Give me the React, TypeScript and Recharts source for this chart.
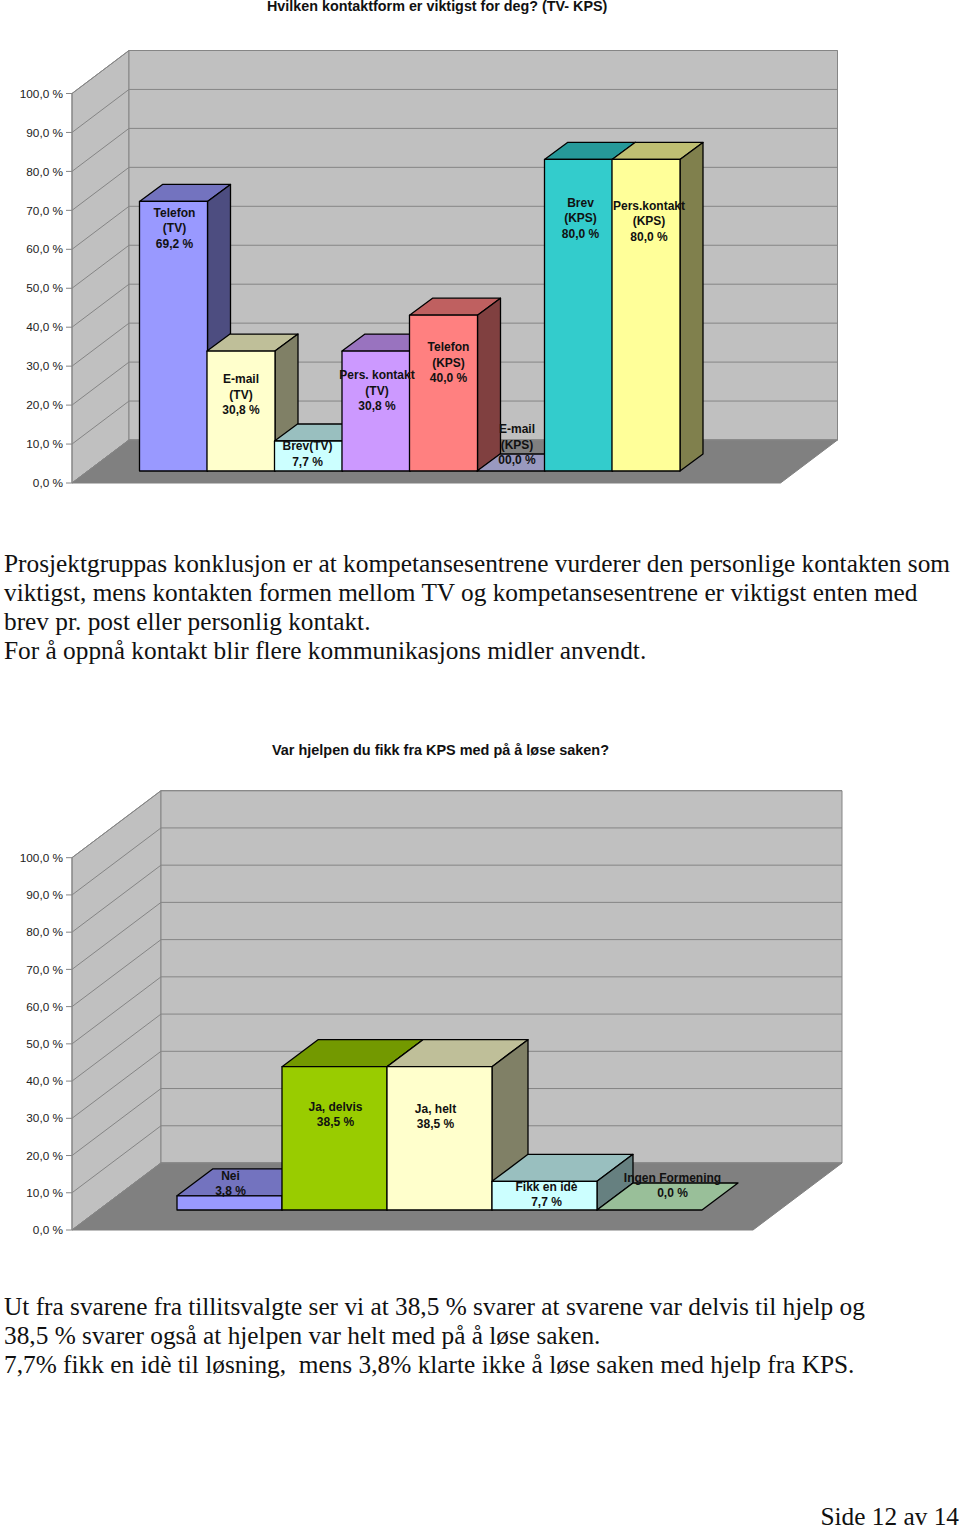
import { Bar, BarChart, CartesianGrid, LabelList, XAxis, YAxis } from "recharts";

const yTicks = [0, 10, 20, 30, 40, 50, 60, 70, 80, 90, 100];

const contactNames = ["Telefon (TV)", "E-mail (TV)", "Brev (TV)", "Pers. kontakt (TV)", "Telefon (KPS)", "E-mail (KPS)", "Brev (KPS)", "Pers.kontakt (KPS)"];
const contactValues = [69.2, 30.8, 7.7, 30.8, 40, 0, 80, 80];
const contactColors = ["#9999ff", "#ffffcc", "#ccffff", "#cc99ff", "#ff8080", "#ccccff", "#33cccc", "#ffff99"];
const contactLabels = [
  ["Telefon", "(TV)", "69,2 %"],
  ["E-mail", "(TV)", "30,8 %"],
  ["Brev(TV)", "7,7 %"],
  ["Pers. kontakt", "(TV)", "30,8 %"],
  ["Telefon", "(KPS)", "40,0 %"],
  ["E-mail", "(KPS)", "00,0 %"],
  ["Brev", "(KPS)", "80,0 %"],
  ["Pers.kontakt", "(KPS)", "80,0 %"]
];
const contactLabelShift = [[1, 11], [0, 28], [-1, 5], [1, 24], [5, 32], [6, -42], [2, 43], [3, 46]];

const helpNames = ["Nei", "Ja, delvis", "Ja, helt", "Fikk en idè", "Ingen Formening"];
const helpValues = [3.8, 38.5, 38.5, 7.7, 0];
const helpColors = ["#9999ff", "#99cc00", "#ffffcc", "#ccffff", "#ccffcc"];
const helpLabels = [
  ["Nei", "3,8 %"],
  ["Ja, delvis", "38,5 %"],
  ["Ja, helt", "38,5 %"],
  ["Fikk en idè", "7,7 %"],
  ["Ingen Formening", "0,0 %"]
];
const helpLabelShift = [[1, -20], [1, 40], [-4, 42], [2, 5], [23, -32]];

const firstText = [
  "Prosjektgruppas konklusjon er at kompetansesentrene vurderer den personlige kontakten som",
  "viktigst, mens kontakten formen mellom TV og kompetansesentrene er viktigst enten med",
  "brev pr. post eller personlig kontakt.",
  "For å oppnå kontakt blir flere kommunikasjons midler anvendt."
];
const secondText = [
  "Ut fra svarene fra tillitsvalgte ser vi at 38,5 % svarer at svarene var delvis til hjelp og",
  "38,5 % svarer også at hjelpen var helt med på å løse saken.",
  "7,7% fikk en idè til løsning,  mens 3,8% klarte ikke å løse saken med hjelp fra KPS."
];

const WALL = "#c0c0c0";
const FLOOR = "#808080";
const EDGE = "#858585";
const AXIS_X = 72;

function shade(hex: string, k: number) {
  const n = parseInt(hex.slice(1), 16);
  const c = [(n >> 16) & 255, (n >> 8) & 255, n & 255].map((v) => Math.round(v * k));
  return `rgb(${c[0]},${c[1]},${c[2]})`;
}

function Walls({ left, top, right, bottom, dx, dy }: any) {
  return (
    <g stroke={EDGE} strokeWidth={1}>
      <polygon fill={WALL} points={`${left},${top} ${left + dx},${top + dy} ${left + dx},${bottom + dy} ${left},${bottom}`} />
      <polygon fill={WALL} points={`${left + dx},${top + dy} ${right + dx},${top + dy} ${right + dx},${bottom + dy} ${left + dx},${bottom + dy}`} />
      <polygon fill={FLOOR} stroke={FLOOR} points={`${left},${bottom} ${right},${bottom} ${right + dx},${bottom + dy} ${left + dx},${bottom + dy}`} />
    </g>
  );
}

function Chart3D({ names, values, colors, labels, shifts, height, top, bottom, plotRight, padLeft, padRight, wallDx, wallDy, barDx, barDy, lift, lineGap }: any) {
  const rows = names.map((name: string, i: number) => ({ name, value: values[i], label: i }));

  const barShape = (props: any) => {
    const { x, y, width: w, height: h, index } = props;
    const base = colors[index];
    const yTop = y - lift;
    return (
      <g stroke="#000" strokeWidth={1.3} strokeLinejoin="round">
        <polygon fill={shade(base, 0.75)} points={`${x},${yTop} ${x + w},${yTop} ${x + w + barDx},${yTop + barDy} ${x + barDx},${yTop + barDy}`} />
        {h > 0 && <polygon fill={shade(base, 0.5)} points={`${x + w},${yTop} ${x + w + barDx},${yTop + barDy} ${x + w + barDx},${yTop + h + barDy} ${x + w},${yTop + h}`} />}
        {h > 0 && <rect x={x} y={yTop} width={w} height={h} fill={base} />}
      </g>
    );
  };

  const barLabel = (props: any) => {
    const box = props.viewBox ?? props;
    const i = props.index;
    const cx = box.x + box.width / 2 + shifts[i][0];
    const first = box.y - lift + shifts[i][1];
    return (
      <g>
        {labels[i].map((line: string, n: number) => (
          <text key={n} x={cx} y={first + n * lineGap} dy="0.35em" textAnchor="middle" fontSize={12} fontWeight="bold" fontFamily="Liberation Sans" fill="#111">
            {line}
          </text>
        ))}
      </g>
    );
  };

  // the grid paints above anything placed before it, so the walls go in with its first line
  const gridLine = (props: any) => {
    const { x1, y1, x2, index } = props;
    return (
      <g key={index}>
        {index === 0 && <Walls left={x1} top={top} right={x2} bottom={height - bottom} dx={wallDx} dy={wallDy} />}
        <polyline fill="none" stroke={EDGE} strokeWidth={1} points={`${x1},${y1} ${x1 + wallDx},${y1 + wallDy} ${x2 + wallDx},${y1 + wallDy}`} />
      </g>
    );
  };

  return (
    <BarChart width={960} height={height} data={rows} barCategoryGap={0} margin={{ top, bottom, left: 0, right: 960 - plotRight }}>
      <CartesianGrid vertical={false} horizontal={gridLine} />
      <XAxis dataKey="name" height={0} tick={false} tickLine={false} axisLine={false} padding={{ left: padLeft, right: padRight }} />
      <YAxis
        width={AXIS_X}
        domain={[0, 100]}
        ticks={yTicks}
        interval={0}
        tickFormatter={(v: number) => `${v.toFixed(1).replace(".", ",")} %`}
        tick={{ fontSize: 11.8, fontFamily: "Liberation Sans", fill: "#222" }}
        tickSize={6}
        tickMargin={3}
        tickLine={{ stroke: EDGE }}
        axisLine={{ stroke: EDGE }}
      />
      <Bar dataKey="value" isAnimationActive={false} shape={barShape}>
        <LabelList dataKey="label" content={barLabel} />
      </Bar>
    </BarChart>
  );
}

function TextLine({ y, children, size = 25.33, bold = false, sans = false, x = 4, right }: any) {
  const box = y < 16 ? 12 : 36;
  return (
    <div
      style={{
        position: "absolute",
        left: right === undefined ? x : undefined,
        right,
        top: y - box / 2,
        height: box,
        lineHeight: `${box}px`,
        fontSize: size,
        fontWeight: bold ? "bold" : "normal",
        fontFamily: sans ? "Liberation Sans" : "Liberation Serif",
        whiteSpace: "pre",
        color: "#111"
      }}
    >
      {children}
    </div>
  );
}

export default function App() {
  return (
    <div style={{ position: "absolute", left: 0, top: 0, width: 960, height: 1527, background: "#fff", overflow: "hidden" }}>
      <div style={{ position: "absolute", left: 0, top: 0 }}>
        <Chart3D
          names={contactNames}
          values={contactValues}
          colors={contactColors}
          labels={contactLabels}
          shifts={contactLabelShift}
          height={500}
          top={93.5}
          bottom={17}
          plotRight={780.5}
          padLeft={67.5}
          padRight={101}
          wallDx={57}
          wallDy={-43}
          barDx={23}
          barDy={-17}
          lift={12}
          lineGap={15.5}
        />
      </div>
      <TextLine y={6} x={267} size={14.35} bold sans>Hvilken kontaktform er viktigst for deg? (TV- KPS)</TextLine>
      {firstText.map((line, i) => (
        <TextLine key={i} y={563 + i * 29}>{line}</TextLine>
      ))}
      <div style={{ position: "absolute", left: 0, top: 760 }}>
        <Chart3D
          names={helpNames}
          values={helpValues}
          colors={helpColors}
          labels={helpLabels}
          shifts={helpLabelShift}
          height={490}
          top={97.7}
          bottom={20}
          plotRight={753}
          padLeft={105}
          padRight={51}
          wallDx={89}
          wallDy={-67}
          barDx={36}
          barDy={-27}
          lift={20}
          lineGap={15}
        />
      </div>
      <TextLine y={750} x={272} size={14.45} bold sans>Var hjelpen du fikk fra KPS med på å løse saken?</TextLine>
      {secondText.map((line, i) => (
        <TextLine key={i} y={1306 + i * 29}>{line}</TextLine>
      ))}
      <TextLine y={1516} right={1}>Side 12 av 14</TextLine>
    </div>
  );
}
